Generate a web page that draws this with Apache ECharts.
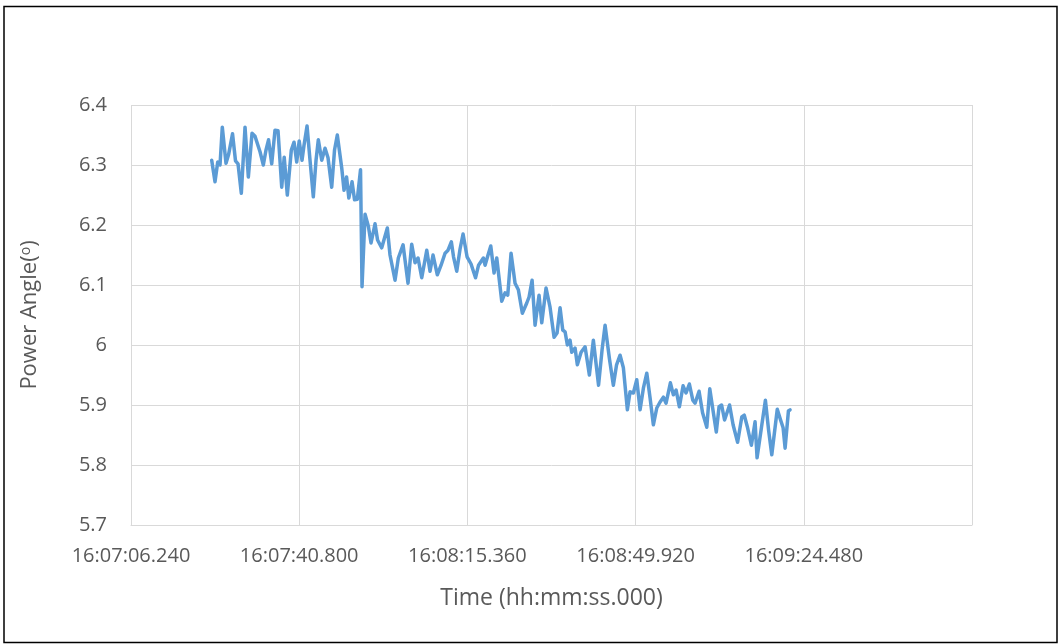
<!DOCTYPE html>
<html>
<head>
<meta charset="utf-8">
<title>Power Angle</title>
<script src="https://cdn.jsdelivr.net/npm/echarts@6/dist/echarts.min.js"></script>
<style>
  html, body { margin: 0; padding: 0; background: #fff; }
  #chart { width: 1061px; height: 644px; }
</style>
</head>
<body>
<div id="chart"></div>
<script>
// time of each sample, seconds after 16:07:00.000
const baseTime = "16:07:00.000";
const timeSec = [
  22.82, 23.50, 24.06, 24.53, 25.00, 25.76, 26.28, 27.10, 27.71, 28.23,
  28.91, 29.67, 30.35, 31.11, 31.72, 32.75, 33.43, 33.98, 34.50, 35.15,
  35.83, 36.45, 37.21, 37.72, 38.36, 39.18, 39.74, 40.29, 40.80, 41.38,
  41.79, 42.41, 43.02, 43.70, 44.26, 44.73, 45.43, 46.11, 46.72, 47.48,
  48.06, 48.63, 49.54, 50.01, 50.53, 51.00, 51.66, 52.17, 52.74, 53.40,
  53.71, 54.33, 55.01, 55.56, 56.38, 56.90, 57.76, 58.91, 59.46, 60.49,
  61.17, 62.14, 63.16, 63.92, 64.60, 65.22, 65.98, 67.01, 67.68, 68.30,
  69.18, 69.95, 70.77, 71.38, 72.06, 72.51, 73.17, 73.85, 74.47, 75.29,
  76.11, 77.03, 77.65, 78.64, 78.99, 79.60, 80.16, 80.84, 81.39, 82.42,
  83.10, 83.65, 84.33, 85.15, 85.83, 86.65, 87.56, 88.03, 88.65, 89.26,
  90.08, 90.64, 91.52, 92.34, 93.17, 93.78, 94.40, 94.95, 95.43, 95.90,
  96.45, 96.80, 97.48, 97.95, 98.72, 99.54, 100.42, 101.24, 101.59, 102.31,
  103.03, 103.65, 104.53, 105.35, 106.01, 106.73, 107.41, 108.23, 108.78, 109.46,
  110.16, 110.84, 111.52, 112.22, 112.89, 113.57, 114.27, 114.95, 115.63, 116.18,
  117.07, 117.68, 118.24, 118.92, 119.68, 120.29, 120.97, 121.67, 122.14, 122.96,
  123.68, 124.55, 125.16, 125.90, 126.50, 127.07, 127.59, 128.20, 129.23, 129.95,
  130.88, 131.74, 132.25, 132.93, 133.71, 134.47, 134.88, 135.77, 136.59, 137.25,
  137.90, 139.03, 139.71, 140.23, 140.64, 141.32, 141.66
];
// power angle in degrees
const powerAngle = [
  6.308, 6.272, 6.305, 6.300, 6.363, 6.303, 6.317, 6.352, 6.307, 6.302,
  6.253, 6.363, 6.280, 6.353, 6.348, 6.322, 6.300, 6.325, 6.342, 6.302,
  6.358, 6.357, 6.263, 6.313, 6.250, 6.325, 6.338, 6.305, 6.340, 6.308,
  6.333, 6.365, 6.308, 6.247, 6.308, 6.342, 6.308, 6.328, 6.312, 6.263,
  6.325, 6.350, 6.295, 6.258, 6.280, 6.245, 6.272, 6.242, 6.243, 6.292,
  6.097, 6.218, 6.198, 6.170, 6.202, 6.175, 6.162, 6.195, 6.150, 6.108,
  6.145, 6.167, 6.103, 6.168, 6.137, 6.145, 6.112, 6.158, 6.123, 6.150,
  6.117, 6.133, 6.153, 6.158, 6.172, 6.147, 6.123, 6.160, 6.185, 6.147,
  6.135, 6.112, 6.133, 6.145, 6.133, 6.150, 6.165, 6.120, 6.145, 6.073,
  6.087, 6.083, 6.153, 6.103, 6.092, 6.053, 6.070, 6.080, 6.108, 6.033,
  6.083, 6.037, 6.095, 6.063, 6.013, 6.020, 6.062, 6.025, 6.022, 6.000,
  6.008, 5.988, 5.995, 5.967, 5.988, 5.997, 5.950, 6.008, 6.005, 5.933,
  5.992, 6.033, 5.978, 5.933, 5.967, 5.983, 5.962, 5.892, 5.922, 5.920,
  5.942, 5.892, 5.928, 5.953, 5.912, 5.867, 5.895, 5.905, 5.913, 5.903,
  5.937, 5.917, 5.925, 5.897, 5.932, 5.920, 5.935, 5.908, 5.903, 5.923,
  5.887, 5.863, 5.927, 5.887, 5.855, 5.897, 5.900, 5.875, 5.900, 5.867,
  5.838, 5.880, 5.883, 5.862, 5.833, 5.872, 5.812, 5.862, 5.908, 5.858,
  5.817, 5.893, 5.875, 5.862, 5.828, 5.890, 5.892
];
// axis ticks
const xTickStart = "16:07:06.240";
const xTickStepSec = 34.56;
const xTickCount = 5;
const yTicks = [5.7, 5.8, 5.9, 6.0, 6.1, 6.2, 6.3, 6.4];

function parseTime(s) {
  const p = s.split(':');
  return Math.round((+p[0] * 3600 + +p[1] * 60 + +p[2]) * 1000);
}
function fmtTime(ms) {
  ms = Math.round(ms);
  const h = Math.floor(ms / 3600000);
  const m = Math.floor(ms / 60000) % 60;
  const s = Math.floor(ms / 1000) % 60;
  const f = ms % 1000;
  const pad = (n, w) => String(n).padStart(w, '0');
  return pad(h, 2) + ':' + pad(m, 2) + ':' + pad(s, 2) + '.' + pad(f, 3);
}

const base = parseTime(baseTime);
const xMin = parseTime(xTickStart);
const xStep = Math.round(xTickStepSec * 1000);
const xMax = xMin + xStep * xTickCount;
const points = timeSec.map((t, i) => [base + Math.round(t * 1000), powerAngle[i]]);

const textColor = '#595959';
const gridColor = '#d9d9d9';
const font = '"Open Sans", Lato, sans-serif';

const chart = echarts.init(document.getElementById('chart'));
chart.setOption({
  animation: false,
  backgroundColor: '#fff',
  graphic: [{
    type: 'rect',
    shape: { x: 4, y: 6.5, width: 1053, height: 636 },
    style: { fill: 'none', stroke: '#000', lineWidth: 1.5 },
    silent: true
  }],
  grid: { left: 131, right: 89, top: 105, bottom: 119 },
  xAxis: {
    type: 'value',
    min: xMin,
    max: xMax,
    interval: xStep,
    name: 'Time (hh:mm:ss.000)',
    nameLocation: 'middle',
    nameGap: 62,
    nameTextStyle: { color: textColor, fontSize: 23, fontFamily: font },
    axisLine: { show: true, lineStyle: { color: gridColor, width: 1 } },
    axisTick: { show: false },
    axisLabel: {
      color: textColor, fontSize: 20, fontFamily: font, margin: 21,
      showMaxLabel: false,
      formatter: v => (v >= xMax ? '' : fmtTime(v))
    },
    splitLine: { show: true, lineStyle: { color: gridColor, width: 1 } }
  },
  yAxis: {
    type: 'value',
    min: yTicks[0],
    max: yTicks[yTicks.length - 1],
    interval: 0.1,
    name: '{a|Power Angle(}{s|o}{a|)}',
    nameLocation: 'middle',
    nameGap: 90,
    nameRotate: 90,
    nameTextStyle: {
      rich: {
        a: { color: textColor, fontSize: 22, fontFamily: font },
        s: { color: textColor, fontSize: 14, fontFamily: font, verticalAlign: 'top', padding: [0, 0, 8, 0] }
      }
    },
    axisLine: { show: false },
    axisTick: { show: false },
    axisLabel: {
      color: textColor, fontSize: 20, fontFamily: font, margin: 24,
      formatter: v => String(parseFloat(v.toFixed(2)))
    },
    splitLine: { show: true, lineStyle: { color: gridColor, width: 1 } }
  },
  series: [{
    type: 'line',
    data: points,
    showSymbol: false,
    symbol: 'none',
    lineStyle: { color: '#5b9bd5', width: 3.5, cap: 'round', join: 'round' }
  }]
});
</script>
</body>
</html>
